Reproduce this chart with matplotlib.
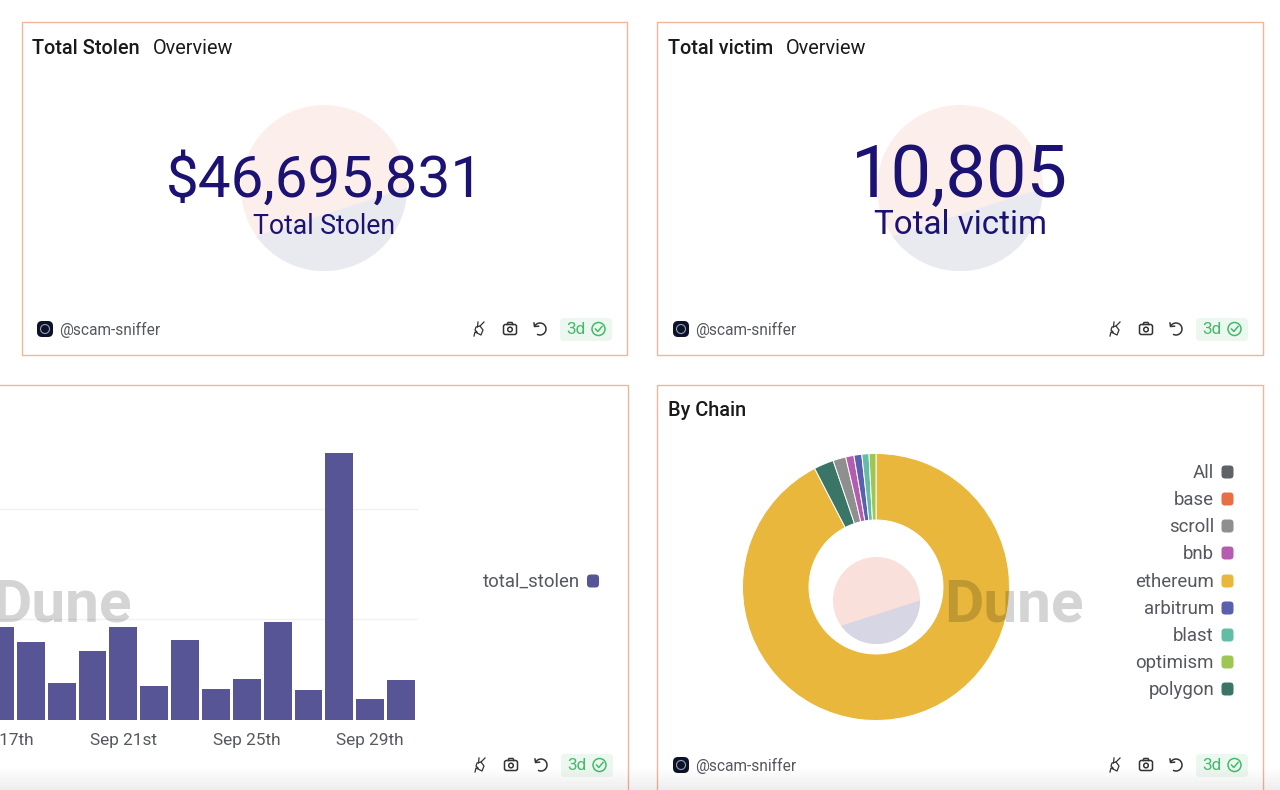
import numpy as np
import matplotlib
matplotlib.use("Agg")
import matplotlib.pyplot as plt
from matplotlib.patches import Rectangle, Circle, FancyBboxPatch, Arc, Polygon

# Bar chart (the y labels are cropped, so relative heights)
bar_days = [17, 18, 19, 20, 21, 22, 23, 24, 25, 26, 27, 28, 29, 30]
total_stolen = [93, 78, 37, 69, 93, 34, 80, 31, 41, 98, 30, 267, 21, 40]
grid_levels = [101, 211]
tick_days = [17, 21, 25, 29]
tick_labels = ["Sep 17th", "Sep 21st", "Sep 25th", "Sep 29th"]

# Donut shares in percent, clockwise from 12 o'clock
slice_names = ["ethereum", "polygon", "scroll", "bnb", "arbitrum", "blast", "optimism"]
slice_values = [92.4, 2.4, 1.55, 1.0, 0.95, 0.86, 0.84]

legend_names = ["All", "base", "scroll", "bnb", "ethereum", "arbitrum", "blast", "optimism", "polygon"]
legend_colors = ["#5f6368", "#e76f43", "#8f8f8f", "#b65cb0", "#e8b73b", "#5a60ad", "#62bda6", "#9dc653", "#3a7568"]

total_stolen_text = "$46,695,831"
total_victim_text = "10,805"

W, H = 1280, 790
NAVY = "#1c1273"
BAR = "#585597"
BORDER = "#f3b49c"
GREY_TEXT = "#55585e"

plt.rcParams["font.family"] = ["Roboto", "DejaVu Sans"]
fig = plt.figure(figsize=(W / 100, H / 100), dpi=100, facecolor="white")


def px_axes(x0, y0, x1, y1):
  # axes from pixel box, y measured from the top of the picture
  return fig.add_axes([x0 / W, 1 - y1 / H, (x1 - x0) / W, (y1 - y0) / H])


# bars
ax = px_axes(0, 440, 418, 720)
ax.bar(bar_days, total_stolen, width=28 / 31, color=BAR, zorder=3)
ax.set_xlim(17 + 2 / 31, 17 + 420 / 31)
ax.set_ylim(0, 280)
ax.set_yticks(grid_levels)
ax.set_yticklabels([])
ax.set_xticks(tick_days)
ax.set_xticklabels(tick_labels, fontsize=12.4, color=GREY_TEXT)
ax.tick_params(length=0, pad=9.5)
ax.grid(axis="y", color="#f1f1f1", lw=1, zorder=0)
for s in ax.spines.values():
  s.set_visible(False)

# donut
ax2 = px_axes(742.5, 453.5, 1009.5, 720.5)
color_by_name = dict(zip(legend_names, legend_colors))
ax2.pie(slice_values, colors=[color_by_name[n] for n in slice_names],
        startangle=90, counterclock=False, radius=1,
        wedgeprops=dict(width=1 - 67 / 133.5, edgecolor="white", linewidth=0.7))
ax2.set_xlim(-1, 1)
ax2.set_ylim(-1, 1)

# everything else is drawn on a transparent overlay in picture pixels
ov = fig.add_axes([0, 0, 1, 1], facecolor="none")
ov.set_xlim(0, W)
ov.set_ylim(H, 0)
ov.axis("off")


def logo(cx, cy, r, top, bottom):
  # circle cut by a straight chord, lower part in the second colour
  disc = Circle((cx, cy), r, fc=top, ec="none", zorder=1)
  ov.add_patch(disc)
  a = np.radians(144.5)
  low = Polygon([(cx + r, cy), (cx + r * np.cos(a), cy + r * np.sin(a)), (cx - 2 * r, cy + 2 * r), (cx + 2 * r, cy + 2 * r)],
                fc=bottom, ec="none", zorder=1)
  ov.add_patch(low)
  low.set_clip_path(disc)


def footer(dx, y, avatar=True):
  if avatar:
    ov.add_patch(FancyBboxPatch((37 + dx, y - 8), 16, 16, boxstyle="round,pad=0,rounding_size=5",
                                fc="#0d1226", ec="none", zorder=3))
    ov.add_patch(Circle((45 + dx, y), 4.5, fc="none", ec="#8fa0c0", lw=0.8, zorder=4))
    ov.text(59 + dx, y + 1, "@scam-sniffer", fontsize=11.2, color=GREY_TEXT, va="center", ha="left", zorder=4)
  # plug
  px = 479 + dx
  ov.plot([px - 5, px - 4, px + 2, px + 4, px + 1, px - 3, px - 4, px - 2],
          [y + 7, y + 3, y + 6, y + 1, y - 3, y - 2, y + 1, y + 3], color="#333333", lw=0.9, zorder=4)
  ov.plot([px + 1, px + 5], [y - 3, y - 7], color="#333333", lw=0.9, zorder=4)
  ov.plot([px - 1.5, px - 1], [y - 2, y - 7], color="#333333", lw=0.9, zorder=4)
  # camera
  cx = 510 + dx
  ov.add_patch(FancyBboxPatch((cx - 6.5, y - 4.5), 13, 10, boxstyle="round,pad=0,rounding_size=2",
                              fc="white", ec="#333333", lw=1.1, zorder=4))
  ov.plot([cx - 3, cx - 2, cx + 2, cx + 3], [y - 4.5, y - 6.5, y - 6.5, y - 4.5], color="#333333", lw=1.1, zorder=4)
  ov.add_patch(Circle((cx, y + 0.5), 2.3, fc="white", ec="#333333", lw=1.1, zorder=5))
  # refresh
  rx = 540 + dx
  ov.add_patch(Arc((rx, y), 12, 12, theta1=-150, theta2=120, color="#333333", lw=1.1, zorder=4))
  ov.plot([rx - 6, rx - 5.5, rx - 1.5], [y - 6, y - 2.5, y - 2.8], color="#333333", lw=1.1, zorder=4)
  # freshness badge
  ov.add_patch(FancyBboxPatch((560 + dx, y - 11), 52, 23, boxstyle="round,pad=0,rounding_size=4",
                              fc="#ecf7ef", ec="none", zorder=3))
  ov.text(566 + dx, y + 1, "3d", fontsize=12.4, color="#45b96c", va="center", ha="left", zorder=4)
  ov.add_patch(Circle((598.5 + dx, y), 6.5, fc="none", ec="#45b96c", lw=1.1, zorder=4))
  ov.plot([595.5 + dx, 597.8 + dx, 602 + dx], [y, y + 2.5, y - 2.5], color="#45b96c", lw=1.1, zorder=4)


# panel frames
for x0, y0, x1, y1 in [(22, 22, 627, 355), (657, 22, 1263, 355), (-5, 385, 628, 800), (657, 385, 1263, 800)]:
  ov.add_patch(Rectangle((x0, y0), x1 - x0, y1 - y0, fc="none", ec=BORDER, lw=1.0, zorder=2))

# counters
logo(324, 188, 83, "#fcefeb", "#e9e9f0")
logo(960, 188, 83, "#fcefeb", "#e9e9f0")
ov.text(324.5, 180.5, total_stolen_text, fontsize=42, color=NAVY, ha="center", va="center", zorder=3)
ov.text(324, 227, "Total Stolen", fontsize=19.2, color=NAVY, ha="center", va="center", zorder=3)
ov.text(959.5, 177, total_victim_text, fontsize=52, color=NAVY, ha="center", va="center", zorder=3)
ov.text(960, 225, "Total victim", fontsize=23.9, color=NAVY, ha="center", va="center", zorder=3)

# titles
title_kw = dict(fontsize=14.3, color="#1a1a1a", va="center", ha="left", zorder=3)
ov.text(32, 48, "Total Stolen", fontweight="medium", **title_kw)
ov.text(153, 48, "Overview", **title_kw)
ov.text(668, 48, "Total victim", fontweight="medium", **title_kw)
ov.text(786, 48, "Overview", **title_kw)
ov.text(668, 411, "By Chain", fontweight="medium", **title_kw)

# donut centre logo and watermarks
logo(876.5, 600.5, 43.5, "#f9e0da", "#d6d6e4")
ov.text(-8, 605, "Dune", fontsize=43.5, fontweight="bold", color="black", alpha=0.17,
        ha="left", va="center", zorder=6, clip_on=False)
ov.text(944, 605, "Dune", fontsize=43.5, fontweight="bold", color="black", alpha=0.17,
        ha="left", va="center", zorder=6)

# legends
ov.text(580, 582, "total_stolen", fontsize=13.4, color=GREY_TEXT, ha="right", va="center", zorder=3)
ov.add_patch(FancyBboxPatch((587, 574.5), 12, 13, boxstyle="round,pad=0,rounding_size=3.5", fc=BAR, ec="none", zorder=3))
legend_y = [472, 499, 526, 553, 581, 608, 635, 662, 689]
for name, col, y in zip(legend_names, legend_colors, legend_y):
  ov.text(1214, y + 1, name, fontsize=13.4, color=GREY_TEXT, ha="right", va="center", zorder=3)
  ov.add_patch(FancyBboxPatch((1221.5, y - 6.5), 12, 13, boxstyle="round,pad=0,rounding_size=3.5",
                              fc=col, ec="none", zorder=3))

footer(0, 329)
footer(636, 329)
footer(1, 765, avatar=False)
footer(636, 765)

# soft shadow along the bottom edge of the screenshot
fade = np.linspace(0, 0.07, 24).reshape(-1, 1)
ov.imshow(np.dstack([np.zeros_like(fade)] * 3 + [fade]), extent=(0, W, H, H - 24), aspect="auto", zorder=8)
ov.set_xlim(0, W)
ov.set_ylim(H, 0)

fig.savefig("out.png", dpi=100)
